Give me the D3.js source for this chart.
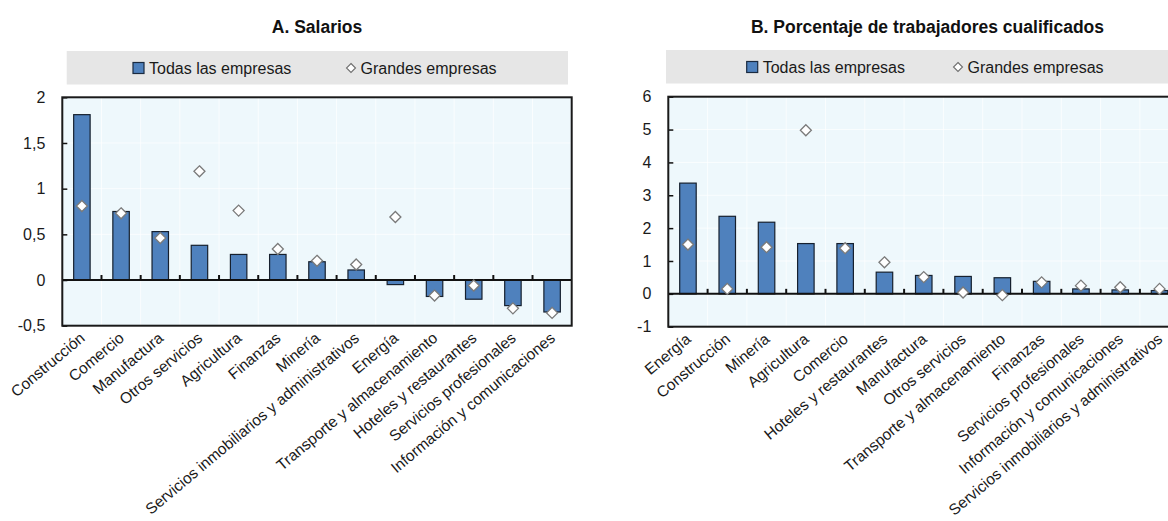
<!DOCTYPE html>
<html>
<head>
<meta charset="utf-8">
<script src="https://cdn.jsdelivr.net/npm/d3@7"></script>
<style>
  html, body { margin: 0; padding: 0; background: #fff; overflow: hidden; }
  svg { display: block; font-family: "Liberation Sans", Arial, sans-serif; }
</style>
</head>
<body>
<svg id="chart" width="1168" height="521"></svg>
<script>
// Panel A: wage premium by sector
const catsA = ["Construcción", "Comercio", "Manufactura", "Otros servicios", "Agricultura", "Finanzas", "Minería",
  "Servicios inmobiliarios y administrativos", "Energía", "Transporte y almacenamiento", "Hoteles y restaurantes",
  "Servicios profesionales", "Información y comunicaciones"];
const todasA = [1.81, 0.75, 0.53, 0.38, 0.28, 0.28, 0.20, 0.11, -0.05, -0.18, -0.21, -0.28, -0.35];
const grandesA = [0.81, 0.73, 0.46, 1.19, 0.76, 0.34, 0.21, 0.17, 0.69, -0.17, -0.06, -0.31, -0.36];
const ticksA = [-0.5, 0, 0.5, 1, 1.5, 2];

// Panel B: share of skilled workers by sector
const catsB = ["Energía", "Construcción", "Minería", "Agricultura", "Comercio", "Hoteles y restaurantes", "Manufactura",
  "Otros servicios", "Transporte y almacenamiento", "Finanzas", "Servicios profesionales",
  "Información y comunicaciones", "Servicios inmobiliarios y administrativos"];
const todasB = [3.37, 2.36, 2.18, 1.53, 1.53, 0.66, 0.56, 0.53, 0.49, 0.38, 0.15, 0.12, 0.10];
const grandesB = [1.50, 0.15, 1.42, 4.98, 1.39, 0.96, 0.51, 0.04, -0.04, 0.35, 0.25, 0.20, 0.15];
const ticksB = [-1, 0, 1, 2, 3, 4, 5, 6];

const seriesNames = ["Todas las empresas", "Grandes empresas"];

const BAR = "#4f81bd";
const svg = d3.select("#chart");

function fmtComma(v) { return String(v).replace(".", ","); }

function panel(cfg) {
  const g = svg.append("g");
  const x = d3.scaleBand().domain(cfg.cats).range([cfg.x0, cfg.x1]).padding(0);
  const y = d3.scaleLinear().domain(cfg.domain).range([cfg.y1, cfg.y0]);
  const frameRight = cfg.x1;

  // title
  g.append("text")
    .attr("x", cfg.titleX).attr("y", 33)
    .attr("text-anchor", "middle")
    .attr("font-weight", "bold").attr("font-size", 17.5).attr("fill", "#111")
    .text(cfg.title);

  // legend band
  g.append("rect")
    .attr("x", cfg.legX0).attr("y", cfg.legY).attr("width", cfg.legX1 - cfg.legX0).attr("height", 33.5)
    .attr("fill", "#e6e6e6");
  const ly = cfg.legY + 17;
  g.append("rect")
    .attr("x", cfg.sqX).attr("y", ly - 5.5).attr("width", 11).attr("height", 11)
    .attr("fill", BAR).attr("stroke", "#1a2a40").attr("stroke-width", 1.2);
  g.append("text")
    .attr("x", cfg.sqX + 16).attr("y", ly + 5.5)
    .attr("font-size", 16).attr("fill", "#1a1a1a").text(seriesNames[0]);
  g.append("path")
    .attr("d", `M${cfg.dmX},${ly - 4.5}L${cfg.dmX + 4.5},${ly}L${cfg.dmX},${ly + 4.5}L${cfg.dmX - 4.5},${ly}Z`)
    .attr("fill", "#fff").attr("stroke", "#6f6f6f").attr("stroke-width", 1.1);
  g.append("text")
    .attr("x", cfg.dmX + 9.5).attr("y", ly + 5.5)
    .attr("font-size", 16).attr("fill", "#1a1a1a").text(seriesNames[1]);

  // plot background
  g.append("rect")
    .attr("x", cfg.x0).attr("y", cfg.y0).attr("width", frameRight - cfg.x0).attr("height", cfg.y1 - cfg.y0)
    .attr("fill", "#eef8fc");

  // faint grid
  const grid = g.append("g").attr("stroke", "#ffffff").attr("stroke-width", 1).attr("stroke-opacity", 0.7);
  cfg.cats.forEach((c, i) => {
    if (i === 0) return;
    grid.append("line").attr("x1", x(c)).attr("x2", x(c)).attr("y1", cfg.y0).attr("y2", cfg.y1);
  });
  cfg.ticks.forEach(t => {
    grid.append("line").attr("x1", cfg.x0).attr("x2", frameRight).attr("y1", y(t)).attr("y2", y(t));
  });

  const bw = x.bandwidth() * 0.42;

  // bars
  g.append("g").selectAll("rect").data(cfg.todas).join("rect")
    .attr("x", (d, i) => x(cfg.cats[i]) + (x.bandwidth() - bw) / 2)
    .attr("y", d => y(Math.max(0, d)))
    .attr("width", bw)
    .attr("height", d => Math.abs(y(d) - y(0)))
    .attr("fill", BAR).attr("stroke", "#16202e").attr("stroke-width", 1.2);

  // zero line with category separators
  g.append("line")
    .attr("x1", cfg.x0).attr("x2", frameRight).attr("y1", y(0)).attr("y2", y(0))
    .attr("stroke", "#111").attr("stroke-width", 2);
  cfg.cats.forEach((c, i) => {
    if (i === 0) return;
    g.append("line").attr("x1", x(c)).attr("x2", x(c)).attr("y1", y(0)).attr("y2", y(0) - 5)
      .attr("stroke", "#111").attr("stroke-width", 2);
  });

  // diamonds
  const r = 5.5;
  g.append("g").selectAll("path").data(cfg.grandes).join("path")
    .attr("transform", (d, i) => `translate(${x(cfg.cats[i]) + x.bandwidth() / 2},${y(d)})`)
    .attr("d", `M0,${-r}L${r},0L0,${r}L${-r},0Z`)
    .attr("fill", "#fff").attr("stroke", "#7a7a7a").attr("stroke-width", 1.3);

  // y axis ticks (inward) and labels
  const yAxis = d3.axisLeft(y).tickValues(cfg.ticks).tickSize(-5).tickPadding(17).tickFormat(cfg.fmt);
  const ya = g.append("g").attr("transform", `translate(${cfg.x0},0)`).call(yAxis);
  ya.select(".domain").remove();
  ya.selectAll(".tick line").attr("stroke", "#111").attr("stroke-width", 1.5);
  ya.selectAll(".tick text").attr("font-size", 16).attr("fill", "#1a1a1a").attr("font-family", null);

  // frame
  g.append("rect")
    .attr("x", cfg.x0).attr("y", cfg.y0).attr("width", frameRight - cfg.x0).attr("height", cfg.y1 - cfg.y0)
    .attr("fill", "none").attr("stroke", "#1a1a1a").attr("stroke-width", 2);

  // category labels, rotated
  g.append("g").selectAll("text").data(cfg.cats).join("text")
    .attr("transform", d => `translate(${x(d) + x.bandwidth() / 2 + 4},${cfg.y1 + 14}) rotate(-40)`)
    .attr("text-anchor", "end")
    .attr("font-size", 15.5).attr("fill", "#1a1a1a")
    .text(d => d);
}

panel({
  title: "A. Salarios", titleX: 317,
  cats: catsA, todas: todasA, grandes: grandesA, ticks: ticksA, domain: [-0.5, 2], fmt: fmtComma,
  x0: 62.3, x1: 571.7, y0: 97.3, y1: 325.7,
  legX0: 66.7, legX1: 568, legY: 51, sqX: 133, dmX: 351
});

panel({
  title: "B. Porcentaje de trabajadores cualificados", titleX: 927.5,
  cats: catsB, todas: todasB, grandes: grandesB, ticks: ticksB, domain: [-1, 6], fmt: d => String(d),
  x0: 668.3, x1: 1179.2, y0: 96.7, y1: 326.7,
  legX0: 666, legX1: 1180, legY: 50, sqX: 746.7, dmX: 958
});
</script>
</body>
</html>
